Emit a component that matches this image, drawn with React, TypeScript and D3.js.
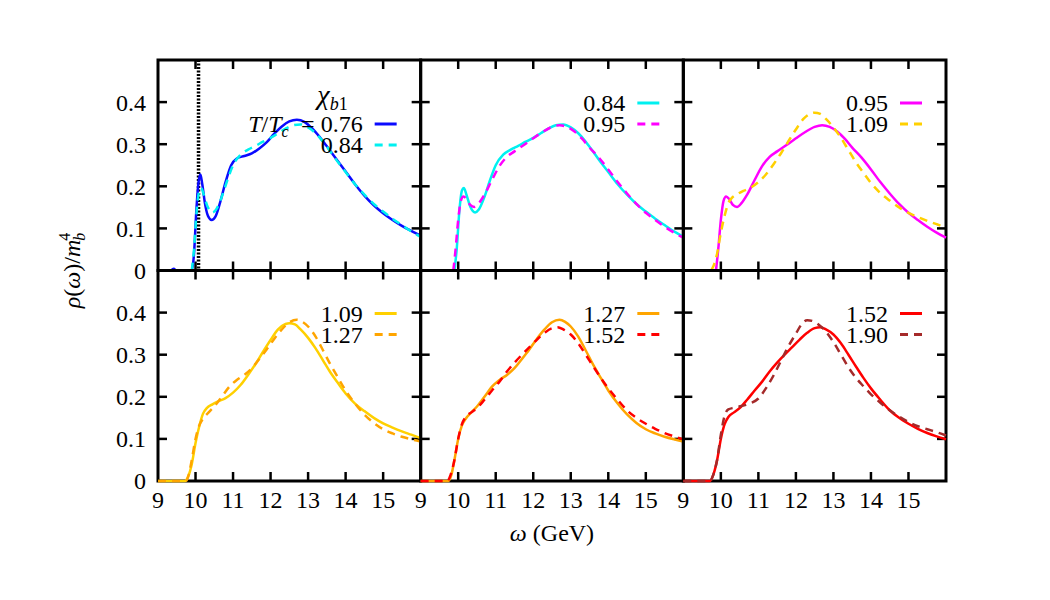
import * as d3 from "d3";

// temperatures T/Tc and their spectral functions rho(omega)/m_b^4
const temps = ["0.76", "0.84", "0.95", "1.09", "1.27", "1.52", "1.90"];
const colors = ["#0a0aff", "#00f0f0", "#ff00ff", "#ffd000", "#ffa500", "#ff0000", "#a52a2a"];

const rho076: [number, number][] = [
  [9.35, 0], [9.42, 0.004], [9.48, 0], [9.9, 0], [9.96, 0.04], [10.02, 0.14], [10.08, 0.21],
  [10.13, 0.228], [10.18, 0.205], [10.25, 0.16], [10.33, 0.13], [10.43, 0.12], [10.53, 0.128],
  [10.65, 0.16], [10.8, 0.21], [10.95, 0.25], [11.1, 0.266], [11.3, 0.272], [11.5, 0.278],
  [11.7, 0.29], [11.9, 0.305], [12.1, 0.325], [12.3, 0.342], [12.5, 0.354], [12.7, 0.358],
  [12.9, 0.353], [13.1, 0.338], [13.3, 0.318], [13.5, 0.295], [13.75, 0.265], [14.0, 0.235],
  [14.25, 0.205], [14.5, 0.178], [14.75, 0.155], [15.0, 0.136], [15.25, 0.12], [15.5, 0.106],
  [15.75, 0.094], [16, 0.083],
];
const rho084: [number, number][] = [
  [9.9, 0], [9.96, 0.05], [10.03, 0.14], [10.1, 0.19], [10.15, 0.196], [10.22, 0.18],
  [10.32, 0.152], [10.45, 0.138], [10.55, 0.145], [10.7, 0.175], [10.85, 0.215], [11.0, 0.25],
  [11.2, 0.275], [11.4, 0.287], [11.6, 0.296], [11.8, 0.306], [12.0, 0.315], [12.2, 0.326],
  [12.4, 0.337], [12.6, 0.345], [12.8, 0.347], [13.0, 0.34], [13.2, 0.326], [13.4, 0.306],
  [13.6, 0.282], [13.8, 0.257], [14.0, 0.234], [14.25, 0.205], [14.5, 0.18], [14.75, 0.158],
  [15.0, 0.14], [15.25, 0.123], [15.5, 0.108], [15.75, 0.093], [16, 0.08],
];
const rho095: [number, number][] = [
  [9.87, 0], [9.93, 0.05], [10.0, 0.12], [10.07, 0.165], [10.14, 0.176], [10.22, 0.17],
  [10.32, 0.156], [10.43, 0.151], [10.55, 0.16], [10.7, 0.18], [10.9, 0.215], [11.1, 0.248],
  [11.3, 0.27], [11.5, 0.283], [11.75, 0.298], [12.0, 0.314], [12.25, 0.329], [12.5, 0.341],
  [12.7, 0.345], [12.9, 0.341], [13.1, 0.33], [13.3, 0.313], [13.5, 0.292], [13.75, 0.268],
  [14.0, 0.24], [14.25, 0.21], [14.5, 0.183], [14.75, 0.158], [15.0, 0.137], [15.25, 0.12],
  [15.5, 0.104], [15.75, 0.09], [16, 0.078],
];
const rho109: [number, number][] = [
  [9, 0], [9.72, 0], [9.8, 0.01], [9.9, 0.04], [10.0, 0.09], [10.1, 0.13], [10.2, 0.16],
  [10.3, 0.173], [10.45, 0.182], [10.6, 0.189], [10.8, 0.197], [11.0, 0.21], [11.2, 0.228],
  [11.4, 0.252], [11.6, 0.278], [11.8, 0.307], [12.0, 0.335], [12.2, 0.36], [12.4, 0.373],
  [12.5, 0.375], [12.65, 0.372], [12.8, 0.36], [13.0, 0.34], [13.2, 0.315], [13.4, 0.286],
  [13.6, 0.257], [13.8, 0.232], [14.0, 0.208], [14.25, 0.184], [14.5, 0.166], [14.75, 0.15],
  [15.0, 0.137], [15.25, 0.127], [15.5, 0.118], [15.75, 0.11], [16, 0.102],
];
const rho127: [number, number][] = [
  [9, 0], [9.74, 0], [9.82, 0.015], [9.9, 0.05], [10.0, 0.1], [10.1, 0.132], [10.2, 0.148],
  [10.35, 0.163], [10.5, 0.177], [10.7, 0.2], [10.9, 0.224], [11.1, 0.24], [11.3, 0.252],
  [11.5, 0.268], [11.7, 0.29], [11.9, 0.313], [12.1, 0.338], [12.3, 0.36], [12.5, 0.377],
  [12.7, 0.383], [12.85, 0.378], [13.0, 0.367], [13.2, 0.343], [13.4, 0.31], [13.6, 0.276],
  [13.8, 0.245], [14.0, 0.215], [14.25, 0.184], [14.5, 0.158], [14.75, 0.138], [15.0, 0.123],
  [15.25, 0.113], [15.5, 0.105], [15.75, 0.099], [16, 0.094],
];
const rho152: [number, number][] = [
  [9, 0], [9.71, 0], [9.8, 0.015], [9.9, 0.05], [10.0, 0.1], [10.1, 0.135], [10.2, 0.152],
  [10.35, 0.163], [10.5, 0.173], [10.7, 0.193], [10.9, 0.215], [11.1, 0.236], [11.3, 0.26],
  [11.5, 0.281], [11.7, 0.3], [11.9, 0.318], [12.1, 0.336], [12.3, 0.352], [12.5, 0.363],
  [12.65, 0.365], [12.8, 0.36], [13.0, 0.348], [13.2, 0.327], [13.4, 0.3], [13.6, 0.272],
  [13.8, 0.245], [14.0, 0.22], [14.25, 0.193], [14.5, 0.168], [14.75, 0.15], [15.0, 0.136],
  [15.25, 0.124], [15.5, 0.114], [15.75, 0.106], [16, 0.099],
];
const rho190: [number, number][] = [
  [9, 0], [9.71, 0], [9.8, 0.015], [9.9, 0.05], [10.0, 0.11], [10.1, 0.155], [10.2, 0.17],
  [10.35, 0.174], [10.55, 0.178], [10.8, 0.185], [11.0, 0.196], [11.2, 0.22], [11.4, 0.25],
  [11.6, 0.285], [11.8, 0.32], [12.0, 0.35], [12.15, 0.372], [12.3, 0.382], [12.45, 0.38],
  [12.6, 0.372], [12.8, 0.355], [13.0, 0.33], [13.2, 0.3], [13.4, 0.27], [13.6, 0.245],
  [13.8, 0.225], [14.0, 0.206], [14.25, 0.186], [14.5, 0.168], [14.75, 0.153], [15.0, 0.14],
  [15.25, 0.13], [15.5, 0.123], [15.75, 0.116], [16, 0.108],
];
const series = [rho076, rho084, rho095, rho109, rho127, rho152, rho190];

// each panel: [solid, dashed] index into temps
const panelPairs = [[0, 1], [1, 2], [2, 3], [3, 4], [4, 5], [5, 6]];
const xTicks = [9, 10, 11, 12, 13, 14, 15];
const yTicks = [0, 0.1, 0.2, 0.3, 0.4];
const chiMass = 10.08; // dotted line in first panel

const font = "'Liberation Serif', 'DejaVu Serif', serif";
const fs = 24;
const left = 158, right = 946, top = 60, bottom = 481;
const pw = (right - left) / 3;
const ph = (bottom - top) / 2;

function Panel({ idx }: { idx: number }) {
  const col = idx % 3, row = Math.floor(idx / 3);
  const x0 = left + col * pw, y0 = top + row * ph;
  const x = d3.scaleLinear().domain([9, 16]).range([x0, x0 + pw]);
  const y = d3.scaleLinear().domain([0, 0.5]).range([y0 + ph, y0]);
  const line = d3
    .line<[number, number]>()
    .x((d) => x(d[0]))
    .y((d) => y(d[1]))
    .curve(d3.curveMonotoneX);
  const [s, dsh] = panelPairs[idx];
  const tl = 9;
  const legX = x0 + pw - 46;
  const legY = idx === 0 ? y0 + 64 : y0 + 43;
  return (
    <g>
      {x.ticks(7).filter((t) => t > 9 && t < 16).map((t) => (
        <g key={"x" + t} stroke="#000" strokeWidth={2.5}>
          <line x1={x(t)} x2={x(t)} y1={y0} y2={y0 + tl} />
          <line x1={x(t)} x2={x(t)} y1={y0 + ph} y2={y0 + ph - tl} />
        </g>
      ))}
      {yTicks.filter((t) => t > 0).map((t) => (
        <g key={"y" + t} stroke="#000" strokeWidth={2.5}>
          <line x1={x0} x2={x0 + tl} y1={y(t)} y2={y(t)} />
          <line x1={x0 + pw} x2={x0 + pw - tl} y1={y(t)} y2={y(t)} />
        </g>
      ))}
      <rect x={x0} y={y0} width={pw} height={ph} fill="none" stroke="#000" strokeWidth={3} />
      {idx === 0 && (
        <line x1={x(chiMass)} x2={x(chiMass)} y1={y0} y2={y0 + ph} stroke="#000"
          strokeWidth={3.5} strokeDasharray="2,1.5" />
      )}
      <path d={line(series[s]) || ""} fill="none" stroke={colors[s]} strokeWidth={2.5} />
      <path d={line(series[dsh]) || ""} fill="none" stroke={colors[dsh]} strokeWidth={2.5}
        strokeDasharray="8,6" />
      <g fontFamily={font} fontSize={fs} textAnchor="end">
        {idx === 0 && (
          <>
            <text x={legX - 27} y={y0 + 44} fontSize={28}>
              <tspan fontStyle="italic">χ</tspan>
              <tspan fontSize={18} fontStyle="italic" dy={6}>b</tspan>
              <tspan fontSize={18}>1</tspan>
            </text>
            <text x={legX - 86} y={legY} dy="0.35em">
              <tspan fontStyle="italic">T</tspan>
              <tspan>/</tspan>
              <tspan fontStyle="italic">T</tspan>
              <tspan fontSize={16} fontStyle="italic" dy={5}>c</tspan>
            </text>
          </>
        )}
        <text x={legX - 12} y={legY} dy="0.35em">
          {idx === 0 ? "= " + temps[s] : temps[s]}
        </text>
        <text x={legX - 12} y={legY + 21} dy="0.35em">{temps[dsh]}</text>
      </g>
      <line x1={legX} x2={legX + 22} y1={legY} y2={legY} stroke={colors[s]} strokeWidth={3} />
      <line x1={legX} x2={legX + 22} y1={legY + 21} y2={legY + 21} stroke={colors[dsh]}
        strokeWidth={3} strokeDasharray="8,6" />
      {col === 0 && yTicks.map((t) => (
        <text key={"yl" + t} x={x0 - 12} y={y(t)} dy="0.35em" textAnchor="end"
          fontFamily={font} fontSize={fs}>{t === 0 ? "0" : d3.format(".1f")(t)}</text>
      ))}
      {row === 1 && xTicks.map((t) => (
        <text key={"xl" + t} x={x(t)} y={y0 + ph + 27} textAnchor="middle"
          fontFamily={font} fontSize={fs}>{t}</text>
      ))}
    </g>
  );
}

export default function App() {
  return (
    <svg width={1050} height={600} style={{ position: "absolute", left: 0, top: 0, background: "#fff" }}>
      <rect width={1050} height={600} fill="#fff" />
      {panelPairs.map((_, i) => (
        <Panel key={i} idx={i} />
      ))}
      <text transform={`translate(80,${(top + bottom) / 2}) rotate(-90)`} textAnchor="middle"
        fontFamily={font} fontSize={fs}>
        <tspan fontStyle="italic">ρ</tspan>(<tspan fontStyle="italic">ω</tspan>)/<tspan
          fontStyle="italic">m</tspan>
        <tspan fontSize={16} fontStyle="italic" dy={5} dx={-1}>b</tspan>
        <tspan fontSize={16} dy={-15} dx={-8}>4</tspan>
      </text>
      <text x={552} y={541} textAnchor="middle" fontFamily={font} fontSize={fs}>
        <tspan fontStyle="italic">ω</tspan> (GeV)
      </text>
    </svg>
  );
}
